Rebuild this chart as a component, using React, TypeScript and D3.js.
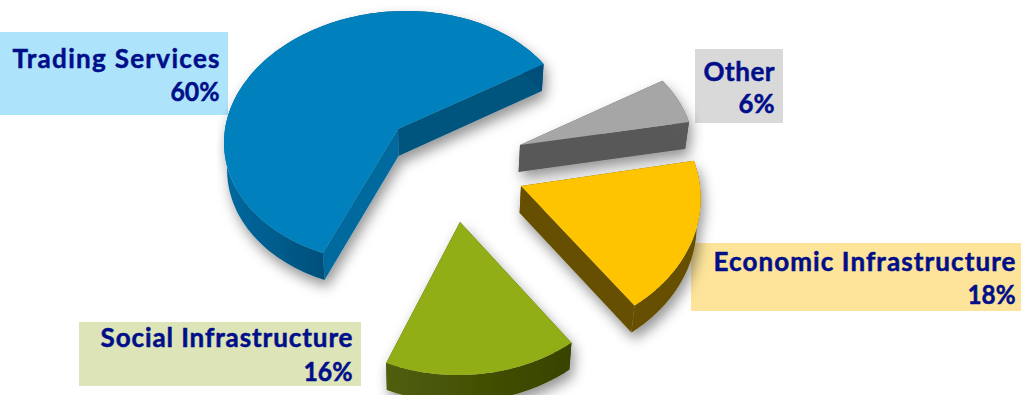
import React from "react";
import * as d3 from "d3";

// Portfolio split by sector, drawn clockwise from the lower left of the pie.
const sectors = ["Trading Services", "Other", "Economic Infrastructure", "Social Infrastructure"];
const shares = [60, 6, 18, 16];

const topColors = ["#0581bd", "#a6a6a6", "#ffc400", "#92ae17"];
const wallColors = ["#00557f", "#595959", "#665000", "#3e4a06"];
const nearWallColors = ["#006a9e", "#595959", "#665000", "#3e4a06"];
const rimLeftColors = ["#0069a0", "#5a5a5a", "#665000", "#4f5e08"];
const rimRightColors = ["#00507a", "#595959", "#665000", "#384304"];
const labelFills = ["#aee4fb", "#d9d9d9", "#fde49a", "#dce4b8"];

// Exploded placement of each wedge: apex, ground-plane radii, foreshortening and skew.
const apexX = [398, 520, 521, 460];
const apexY = [129, 145, 186, 222];
const radiusX = [173, 174, 179, 174];
const radiusY = [125.5, 124, 137, 135];
const perspective = [0.063, 0.06, 0.09, 0.118];
const skew = [-8, 0, 0, -2];

// Label boxes: left, top, right, bottom, text right edge, first and second baselines.
const boxes = [
  [0, 32, 228, 115, 219.5, 68, 100.5],
  [695, 49, 783, 123, 774.5, 81, 113],
  [691, 243, 1021, 311, 1015.5, 271, 303.5],
  [79, 322, 361, 386, 352.5, 347, 381],
];
// Set widths of the name line and the percentage line in each box.
const nameWidths = [207, 71, 302, 252];
const shareWidths = [49, 36, 48, 49];

const thickness = 27;
const firstAngle = (201.6 * Math.PI) / 180;
const paintOrder = [0, 1, 3, 2];

type Pt = [number, number];

const wedges = d3
  .pie<number>()
  .sort(null)
  .startAngle(firstAngle)
  .endAngle(firstAngle + 2 * Math.PI)(shares);

const outline = d3.line<Pt>().x((p) => p[0]).y((p) => p[1]);
const closed = (pts: Pt[]) => outline(pts) + "Z";

// Ground-plane angle to screen position, with nearer points drawn larger.
const project = (i: number, angle: number): Pt => {
  const u = Math.sin(angle);
  const v = -Math.cos(angle);
  const w = 1 - perspective[i] * v;
  return [apexX[i] + (radiusX[i] * u) / w + skew[i] * v, apexY[i] + (radiusY[i] * v) / w];
};

// Vertical edges converge slightly toward a vanishing point under the pie.
const drop = (p: Pt): Pt => [p[0] - (p[0] - 430) * 0.015, p[1] + thickness];

const arcPoints = (i: number, a0: number, a1: number): Pt[] =>
  d3.range(0, 121).map((k) => project(i, a0 + ((a1 - a0) * k) / 120));

const band = (upper: Pt[]): Pt[] => [...upper, ...upper.map(drop).reverse()];

const Wedge = ({ i }: { i: number }) => {
  const { startAngle, endAngle } = wedges[i];
  const apex: Pt = [apexX[i], apexY[i]];
  const rim = arcPoints(i, startAngle, endAngle);
  const first = rim[0];
  const last = rim[rim.length - 1];
  const xs = rim.map((p) => p[0]);
  return (
    <g filter={i === 0 ? "url(#shadowTight)" : "url(#shadow)"}>
      <linearGradient
        id={`rim${i}`}
        gradientUnits="userSpaceOnUse"
        x1={d3.min(xs)}
        x2={i === 0 ? first[0] : d3.max(xs)}
        y1={0}
        y2={0}
      >
        <stop offset="0" stopColor={rimLeftColors[i]} />
        <stop offset="1" stopColor={rimRightColors[i]} />
      </linearGradient>
      <path d={closed(band([apex, last]))} fill={wallColors[i]} />
      <path d={closed(band([apex, first]))} fill={nearWallColors[i]} />
      <path d={closed(band(rim))} fill={`url(#rim${i})`} />
      <path d={closed([apex, ...rim])} fill={topColors[i]} />
    </g>
  );
};

const Label = ({ i }: { i: number }) => {
  const [x0, y0, x1, y1, tx, b1, b2] = boxes[i];
  const style = {
    fontFamily: "Lato, sans-serif",
    fontWeight: 700,
    fontSize: 26,
    fill: "#000f89",
    stroke: "#000f89",
    strokeWidth: 0.5,
  };
  return (
    <g>
      <rect x={x0} y={y0} width={x1 - x0} height={y1 - y0} fill={labelFills[i]} />
      <text
        x={tx - nameWidths[i]}
        y={b1}
        textLength={nameWidths[i]}
        lengthAdjust="spacing"
        style={style}
      >
        {sectors[i]}
      </text>
      <text
        x={tx - shareWidths[i]}
        y={b2}
        textLength={shareWidths[i]}
        lengthAdjust="spacingAndGlyphs"
        style={style}
      >
        {shares[i]}%
      </text>
    </g>
  );
};

export default function App() {
  return (
    <svg
      width={1021}
      height={395}
      viewBox="0 0 1021 395"
      style={{ position: "absolute", left: 0, top: 0, display: "block", background: "#fff" }}
    >
      <defs>
        <filter id="shadow" x="-15%" y="-15%" width="130%" height="135%">
          <feDropShadow dx="3" dy="7" stdDeviation="6.5" floodColor="#000" floodOpacity="0.42" />
        </filter>
        <filter id="shadowTight" x="-2%" y="-5%" width="110%" height="120%">
          <feDropShadow dx="3" dy="7" stdDeviation="6.5" floodColor="#000" floodOpacity="0.42" />
        </filter>
      </defs>
      {sectors.map((_, i) => (
        <Label key={i} i={i} />
      ))}
      {paintOrder.map((i) => (
        <Wedge key={i} i={i} />
      ))}
    </svg>
  );
}
